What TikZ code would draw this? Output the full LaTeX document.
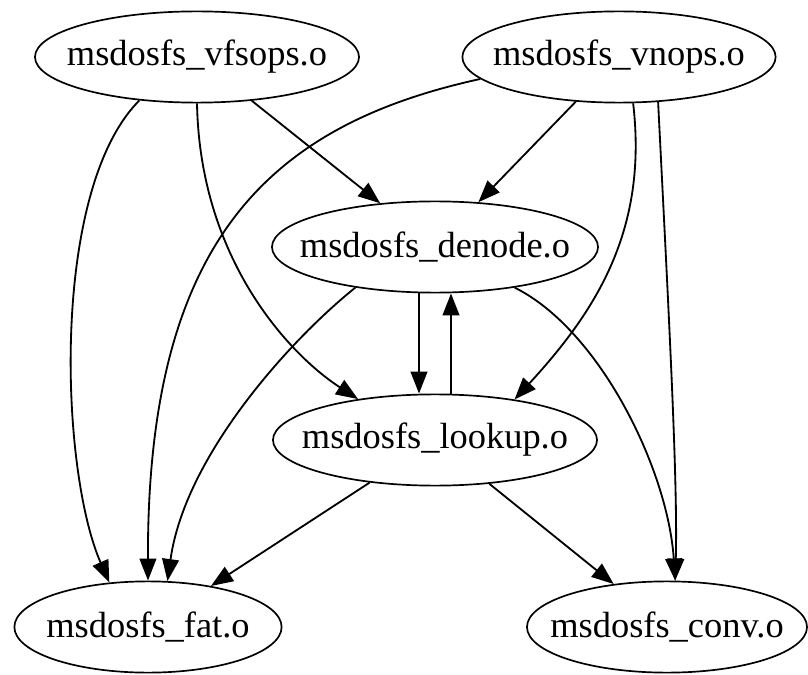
\documentclass[tikz,border=0pt]{standalone}
\usepackage{fontspec}
\setmainfont{Liberation Serif}
\usetikzlibrary{arrows.meta, shapes.geometric}

\begin{document}
\begin{tikzpicture}[
  x=0.025cm, y=-0.025cm,
  objfile/.style={ellipse, draw, line width=1.2pt, inner ysep=0pt, inner xsep=-6mm,
    minimum height=2.28cm, font=\fontsize{25.9}{30}\selectfont},
  dep/.style={-{Triangle[length=5.5mm, width=4.2mm]}, line width=1.3pt}
]
\useasboundingbox (0,0) rectangle (808,675);

\node[objfile, minimum width=8.1cm]  (vfsops) at (197,57)  {msdosfs\_vfsops.o};
\node[objfile, minimum width=7.83cm] (vnops)  at (619,57)  {msdosfs\_vnops.o};
\node[objfile, minimum width=8.15cm] (denode) at (435,247) {msdosfs\_denode.o};
\node[objfile, minimum width=8.1cm]  (lookup) at (435,440) {msdosfs\_lookup.o};
\node[objfile, minimum width=6.68cm] (fat)    at (148,627) {msdosfs\_fat.o};
\node[objfile, minimum width=7.0cm]  (conv)   at (667,627) {msdosfs\_conv.o};

\draw[dep] (vfsops.217) .. controls (50,190) and (60,470) .. (fat.131);
\draw[dep] (vfsops.south) .. controls (200,260) and (290,355) .. (lookup.152);
\draw[dep] (vfsops) -- (denode);

\draw[dep] (vnops.189) .. controls (270,125) and (147,240) .. (fat.north);
\draw[dep] (vnops) -- (denode);
\draw[dep] (vnops.287) .. controls (648,230) and (596,311) .. (lookup.27);
\draw[dep] (vnops.311) .. controls (668,300) and (678,480) .. (conv.80);

\draw[dep] ([xshift=-4mm]denode.south) -- ([xshift=-4mm]lookup.north);
\draw[dep] ([xshift=4mm]lookup.north) -- ([xshift=4mm]denode.south);
\draw[dep] (denode.207) .. controls (290,340) and (185,456) .. (fat.67);
\draw[dep] (denode.333) .. controls (600,330) and (668,470) .. (conv.80);

\draw[dep] (lookup) -- (fat);
\draw[dep] (lookup) -- (conv);
\end{tikzpicture}
\end{document}
